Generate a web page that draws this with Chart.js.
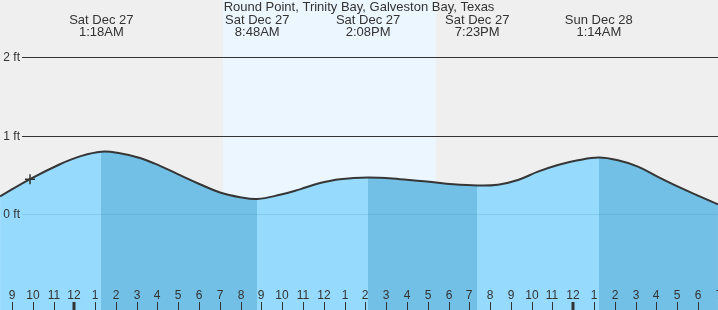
<!DOCTYPE html>
<html>
<head>
<meta charset="utf-8">
<script src="https://cdn.jsdelivr.net/npm/chart.js@4"></script>
<style>
html,body{margin:0;padding:0;background:#efefef;}
#wrap{width:718px;height:310px;}
</style>
</head>
<body>
<div id="wrap"><canvas id="c" width="718" height="310"></canvas></div>
<script>
// ---- data (hours since midnight Sat Dec 27, heights in ft) ----
const title = 'Round Point, Trinity Bay, Galveston Bay, Texas';
const tideHours = [-3.57, -2.13, -0.69, 0.27, 1.30, 2.19, 3.16, 4.12, 5.08, 6.04, 7.01, 7.97, 8.80, 9.89, 10.85, 11.82, 12.78, 14.13, 15.66, 16.95, 18.23, 19.38, 20.38, 21.34, 22.30, 23.26, 24.22, 25.23, 26.15, 27.11, 28.07, 29.04, 30.00, 30.96];
const tideFeet  = [0.23, 0.45, 0.64, 0.74, 0.80, 0.78, 0.72, 0.62, 0.50, 0.385, 0.28, 0.22, 0.197, 0.25, 0.32, 0.40, 0.45, 0.47, 0.45, 0.42, 0.385, 0.37, 0.38, 0.44, 0.545, 0.63, 0.69, 0.725, 0.69, 0.61, 0.48, 0.355, 0.24, 0.13];
const nowHour = -2.13;
const nowFeet = 0.45;
const eventHours = [1.30, 8.80, 14.13, 19.38, 25.23];
const eventDays  = ['Sat Dec 27', 'Sat Dec 27', 'Sat Dec 27', 'Sat Dec 27', 'Sun Dec 28'];
const eventTimes = ['1:18AM', '8:48AM', '2:08PM', '7:23PM', '1:14AM'];
const fallingBands = [[1.30, 8.80], [14.13, 19.38], [25.23, 31.5]];
const daylight = [7.15, 17.40];
const yTickValues = [0, 1, 2];
const yTickLabels = ['0 ft', '1 ft', '2 ft'];
const xTickHours  = [-3,-2,-1,0,1,2,3,4,5,6,7,8,9,10,11,12,13,14,15,16,17,18,19,20,21,22,23,24,25,26,27,28,29,30,31];
const xTickLabels = ['9','10','11','12','1','2','3','4','5','6','7','8','9','10','11','12','1','2','3','4','5','6','7','8','9','10','11','12','1','2','3','4','5','6','7'];

// ---- styles ----
const FONT = '"Liberation Sans", Arial, sans-serif';
const TEXT = '#333333';
const LIGHT = '#96dbfe';
const DARK = '#72c0e6';

function fillColor(ctx) {
  const chart = ctx.chart;
  const area = chart.chartArea;
  if (!area || !chart.scales.x) return LIGHT;
  const xs = chart.scales.x;
  const w = area.right - area.left;
  const g = chart.ctx.createLinearGradient(area.left, 0, area.right, 0);
  const pos = v => Math.min(1, Math.max(0, (xs.getPixelForValue(v) - area.left) / w));
  g.addColorStop(0, LIGHT);
  fallingBands.forEach(([a, b]) => {
    const pa = pos(a), pb = pos(b);
    g.addColorStop(pa, LIGHT);
    g.addColorStop(pa, DARK);
    g.addColorStop(pb, DARK);
    if (pb < 1) g.addColorStop(pb, LIGHT);
  });
  if (pos(fallingBands[fallingBands.length - 1][1]) < 1) g.addColorStop(1, LIGHT);
  return g;
}

const decor = {
  id: 'decor',
  beforeDraw(chart) {
    const c = chart.ctx, xs = chart.scales.x;
    c.save();
    c.fillStyle = '#efefef';
    c.fillRect(0, 0, chart.width, chart.height);
    const d0 = xs.getPixelForValue(daylight[0]), d1 = xs.getPixelForValue(daylight[1]);
    c.fillStyle = '#ecf6ff';
    c.fillRect(d0, 0, d1 - d0, chart.height);
    c.restore();
  },
  beforeDatasetsDraw(chart) {
    const c = chart.ctx, ys = chart.scales.y, a = chart.chartArea;
    c.save();
    c.strokeStyle = '#333333';
    c.lineWidth = 1;
    yTickValues.forEach(v => {
      if (v === 0) return;
      const y = Math.round(ys.getPixelForValue(v)) + 0.5;
      c.beginPath(); c.moveTo(22, y); c.lineTo(a.right, y); c.stroke();
    });
    c.restore();
  },
  afterDatasetsDraw(chart) {
    const c = chart.ctx, xs = chart.scales.x, ys = chart.scales.y, a = chart.chartArea;
    c.save();
    const y0 = Math.round(ys.getPixelForValue(0)) + 0.5;
    c.strokeStyle = 'rgba(40,120,170,0.16)';
    c.lineWidth = 1;
    c.beginPath(); c.moveTo(22, y0); c.lineTo(a.right, y0); c.stroke();
    c.fillStyle = TEXT;
    c.font = '12px ' + FONT;
    c.textAlign = 'right';
    c.textBaseline = 'middle';
    yTickValues.forEach((v, i) => {
      c.fillText(yTickLabels[i], 20, Math.round(ys.getPixelForValue(v)) + 0.5);
    });
    c.font = '13px ' + FONT;
    c.textAlign = 'center';
    c.fillText(title, 359, 7.5);
    eventHours.forEach((h, i) => {
      const x = xs.getPixelForValue(h);
      c.fillText(eventDays[i], x, 20);
      c.fillText(eventTimes[i], x, 32.5);
    });
    c.font = '12px ' + FONT;
    c.strokeStyle = '#333333';
    xTickHours.forEach((h, i) => {
      const x = Math.round(xs.getPixelForValue(h));
      c.fillText(xTickLabels[i], x, 296);
      const mid = (h % 24 === 0);
      c.lineWidth = mid ? 3 : 1;
      c.beginPath();
      const xx = mid ? x : x + 0.5;
      c.moveTo(xx, 302); c.lineTo(xx, 310); c.stroke();
    });
    c.restore();
  }
};

new Chart(document.getElementById('c'), {
  type: 'line',
  data: {
    datasets: [
      {
        data: tideHours.map((h, i) => ({ x: h, y: tideFeet[i] })),
        borderColor: '#363636',
        borderWidth: 2,
        backgroundColor: fillColor,
        fill: 'start',
        pointRadius: 0,
        tension: 0.4,
        clip: 0,
        order: 2
      },
      {
        data: [{ x: nowHour, y: nowFeet }],
        showLine: false,
        pointStyle: 'cross',
        pointRadius: 5,
        pointBorderWidth: 1.5,
        pointBorderColor: '#333333',
        borderColor: '#333333',
        order: 1
      }
    ]
  },
  options: {
    responsive: false,
    animation: false,
    events: [],
    layout: { padding: 0, autoPadding: false },
    plugins: { legend: { display: false }, tooltip: { enabled: false } },
    scales: {
      x: { type: 'linear', min: -3.574, max: 30.962, display: false },
      y: { type: 'linear', min: -1.217, max: 2.732, display: false }
    }
  },
  plugins: [decor]
});
</script>
</body>
</html>
